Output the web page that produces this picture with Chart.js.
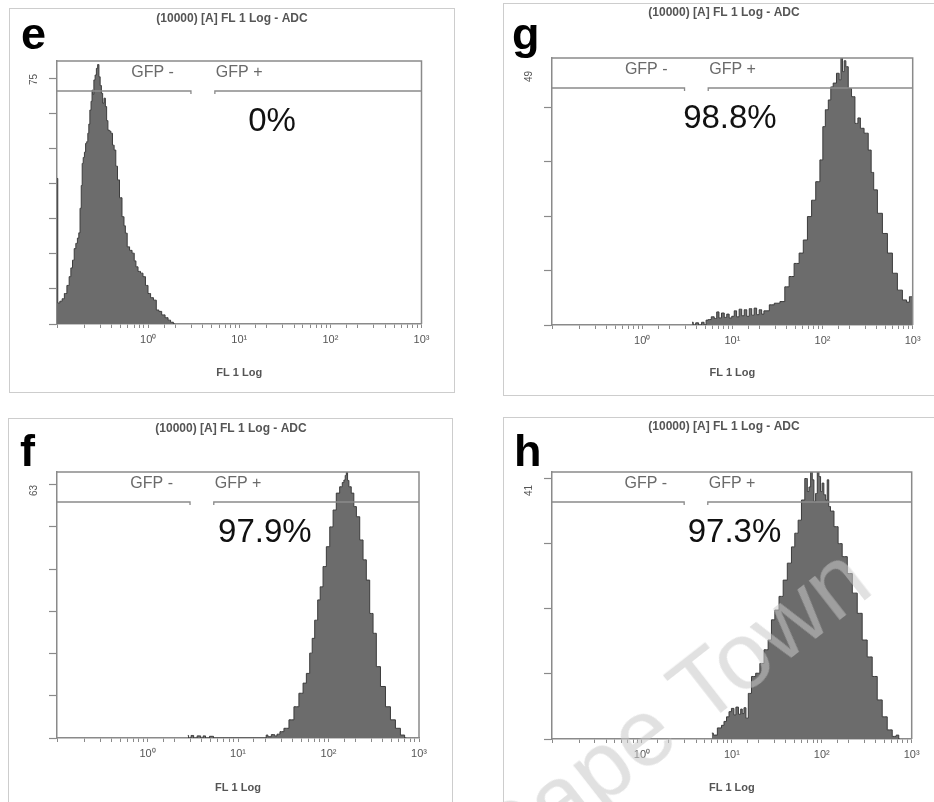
<!DOCTYPE html>
<html>
<head>
<meta charset="utf-8">
<title>FL 1 Log histograms</title>
<script src="https://cdn.jsdelivr.net/npm/chart.js@4.4.1/dist/chart.umd.min.js"></script>
<style>
  html, body { margin: 0; padding: 0; background: #fff; }
  body { position: relative; width: 934px; height: 802px; overflow: hidden; }
  .frame { position: absolute; border: 1px solid #cdcdcd; box-sizing: border-box; }
  canvas { position: absolute; }
  .watermark {
    position: absolute; white-space: nowrap; pointer-events: none;
    font: 95px "Liberation Sans", Arial, sans-serif; line-height: 95px;
    color: rgba(200, 200, 200, 0.55);
    transform-origin: 0 80px; transform: rotate(-38deg);
  }
</style>
</head>
<body>
<div class="frame" style="left:9px;top:8px;width:446px;height:385px"></div>
<div class="frame" style="left:503px;top:3px;width:460px;height:393px"></div>
<div class="frame" style="left:8px;top:418px;width:445px;height:420px"></div>
<div class="frame" style="left:503px;top:417px;width:460px;height:420px"></div>

<canvas id="chart-e" width="445" height="385" style="left:9px;top:8px"></canvas>
<canvas id="chart-g" width="440" height="390" style="left:503px;top:3px"></canvas>
<canvas id="chart-f" width="445" height="390" style="left:8px;top:418px"></canvas>
<canvas id="chart-h" width="440" height="391" style="left:503px;top:417px"></canvas>

<div class="watermark" style="left:503px;top:803px">Cape Town</div>

<script>
// ---- data (FL 1 value, event count) ----
const eFL = [0.100, 0.104, 0.111, 0.117, 0.124, 0.133, 0.139, 0.145, 0.151, 0.158,
  0.164, 0.171, 0.176, 0.182, 0.187, 0.191, 0.197, 0.203, 0.209, 0.215,
  0.221, 0.226, 0.233, 0.240, 0.245, 0.250, 0.258, 0.266, 0.275, 0.284,
  0.293, 0.302, 0.312, 0.322, 0.334, 0.345, 0.356, 0.368, 0.382, 0.398,
  0.415, 0.432, 0.452, 0.471, 0.500, 0.534, 0.553, 0.572, 0.607, 0.645,
  0.688, 0.720, 0.750, 0.800, 0.851, 0.905, 0.965, 1.03, 1.10, 1.19,
  1.27, 1.35, 1.47, 1.60, 1.71, 1.82, 1.97];
const eCount = [41.5, 6.0, 6.5, 7.2, 8.7, 11.0, 13.5, 16.0, 18.2, 21.5,
  23.0, 24.5, 26.0, 33.0, 39.5, 45.8, 47.5, 49.0, 51.5, 52.0,
  54.4, 57.0, 61.0, 63.5, 66.7, 65.5, 69.6, 71.0, 72.9, 74.0,
  70.5, 68.0, 65.8, 63.0, 64.4, 62.0, 58.0, 55.3, 55.0, 54.4,
  51.0, 49.6, 45.0, 41.1, 36.0, 30.6, 28.0, 25.9, 22.0, 21.0,
  20.2, 18.0, 16.3, 15.0, 14.5, 13.5, 11.0, 8.7, 7.5, 6.8,
  4.0, 3.6, 2.6, 1.8, 1.1, 0.5, 0];

const gFL = [3.57, 3.8, 4.05, 4.4, 4.72, 5.0, 5.23, 5.6, 6.09, 6.5,
  6.92, 7.3, 7.87, 8.4, 8.94, 9.5, 10.2, 10.8, 11.5, 12.3,
  13.1, 14.0, 14.9, 15.9, 16.9, 18.0, 19.2, 20.5, 21.8, 23.0,
  24.2, 27.3, 31.2, 36.4, 40.0, 45.4, 51.6, 58.7, 63.8, 72.5,
  78.9, 89.6, 97.7, 104, 111, 121, 126, 137, 149, 157,
  163, 170, 178, 185, 201, 219, 239, 255, 271, 308,
  335, 358, 381, 433, 492, 559, 635, 721, 820, 892,
  948, 1000];
const gCount = [0.5, 0, 0.4, 0, 0.5, 0, 0.9, 1.0, 1.5, 1.2,
  2.4, 1.3, 2.2, 1.4, 2.0, 1.3, 1.6, 2.6, 1.5, 2.9,
  1.7, 2.8, 1.6, 3.0, 1.8, 3.1, 1.9, 2.8, 2.0, 2.6,
  2.6, 3.7, 4.0, 4.3, 7.0, 8.9, 11.3, 13.2, 15.6, 19.9,
  22.9, 26.3, 30.3, 36.4, 39.5, 41.3, 43.7, 44.4, 46.2, 45.0,
  49.0, 46.5, 48.5, 47.4, 43.4, 41.9, 37.0, 38.0, 36.1, 35.2,
  32.1, 28.0, 24.8, 20.5, 16.8, 13.2, 9.5, 6.4, 4.6, 4.2,
  5.2, 5.2];

const fFL = [2.79, 2.9, 3.17, 3.3, 3.79, 3.95, 4.30, 4.45, 5.27, 5.45,
  20.2, 20.8, 22, 24.8, 26, 28, 30.2, 34.3, 39.0, 44.2,
  50.2, 54.6, 59.4, 64.7, 67.4, 73.5, 78.5, 83.5, 90.8, 98.7,
  108, 117, 127, 139, 145, 151, 155, 160, 165, 171,
  186, 195, 212, 231, 251, 273, 298, 324, 352, 400,
  454, 515, 585, 664, 724];
const fCount = [0.6, 0, 0.6, 0, 0.5, 0, 0.5, 0, 0.4, 0,
  0, 0.7, 0.3, 0.8, 0.5, 0.9, 1.5, 2.3, 4.3, 7.4,
  10.6, 13.0, 15.3, 20.1, 23.6, 27.9, 32.7, 35.8, 40.6, 45.3,
  50.0, 54.0, 58.0, 59.5, 60.5, 61.1, 62.2, 63.0, 61.0, 59.5,
  58.0, 54.8, 52.4, 46.9, 42.2, 37.4, 29.5, 24.8, 16.9, 12.2,
  7.4, 4.3, 2.3, 0.7, 0];

const hFL = [5.99, 6.47, 7.36, 8.0, 8.36, 9.10, 9.50, 10.3, 10.8, 11.4,
  12.3, 12.8, 13.3, 14.0, 14.7, 15.8, 17.3, 19.6, 21.4, 24.3,
  26.4, 28.8, 31.4, 35.7, 38.8, 44.1, 48.0, 52.3, 57.0, 62.0,
  67.6, 70.5, 73.6, 76.8, 80.0, 83.5, 87.3, 91, 95.0, 99,
  103, 108, 113, 117, 122, 128, 146, 158, 180, 205,
  233, 264, 300, 341, 388, 441, 501, 570, 647, 700,
  736];
const hCount = [0.9, 0.6, 1.7, 2.1, 2.7, 3.4, 4.2, 4.7, 3.7, 4.9,
  3.8, 4.6, 3.9, 4.8, 3.2, 7.0, 9.6, 10.1, 11.6, 13.7,
  15.2, 18.3, 19.8, 21.9, 24.4, 27.0, 29.5, 31.6, 33.6, 36.7,
  40.0, 38.0, 38.7, 41.0, 39.8, 36.5, 37.7, 41.0, 40.3, 38.0,
  39.3, 37.5, 36.7, 39.8, 35.7, 35.0, 32.6, 30.0, 28.0, 25.4,
  22.4, 19.3, 15.2, 12.6, 9.6, 6.0, 3.4, 1.4, 0.4, 0.6,
  0];

// axis max shown at the top of each count axis
const yMax = [75, 49, 63, 41];
const panelLetters = ['e', 'g', 'f', 'h'];
const pctText = ['0%', '98.8%', '97.9%', '97.3%'];
const pctAt = [22.9, 9.4, 19.8, 10.7];          // FL 1 value under each % label

const gateNames = ['GFP -', 'GFP +'];
const gateNeg = [0.1, 2.95];
const gatePos = [5.4, 1000];

const xTickValues = [1, 10, 100, 1000];
const xTickLabels = ['10⁰', '10¹', '10²', '10³'];
const plotTitle = '(10000) [A] FL 1 Log - ADC';
const xTitle = 'FL 1 Log';

const FONT = '"Liberation Sans", Arial, sans-serif';
Chart.defaults.font.family = FONT;
Chart.defaults.animation = false;

const AXIS = '#8a8a8a';

// gate bar, GFP labels, % label, box, panel letter and header
const flowMarks = {
  id: 'flowMarks',
  afterDatasetsDraw(chart, args, o) {
    const { ctx, chartArea: a } = chart;
    const x = chart.scales.x;
    ctx.save();
    ctx.strokeStyle = AXIS;
    ctx.lineWidth = 1.5;
    ctx.beginPath();
    ctx.moveTo(a.left, a.top);
    ctx.lineTo(a.right, a.top);
    ctx.lineTo(a.right, a.bottom);
    ctx.stroke();

    const gy = a.top + 30;
    const negEnd = x.getPixelForValue(gateNeg[1]);
    const posStart = x.getPixelForValue(gatePos[0]);
    ctx.lineWidth = 1.3;
    ctx.beginPath();
    ctx.moveTo(x.getPixelForValue(gateNeg[0]), gy);
    ctx.lineTo(negEnd, gy);
    ctx.lineTo(negEnd, gy + 3);
    ctx.moveTo(posStart, gy + 3);
    ctx.lineTo(posStart, gy);
    ctx.lineTo(x.getPixelForValue(gatePos[1]), gy);
    ctx.stroke();

    ctx.fillStyle = '#6a6a6a';
    ctx.font = '16px ' + FONT;
    ctx.textBaseline = 'middle';
    ctx.textAlign = 'right';
    ctx.fillText(gateNames[0], negEnd - 17, a.top + 12);
    ctx.textAlign = 'left';
    ctx.fillText(gateNames[1], posStart + 1, a.top + 12);

    ctx.fillStyle = '#111';
    ctx.font = '33px ' + FONT;
    ctx.textAlign = 'center';
    ctx.fillText(o.pct, x.getPixelForValue(o.pctAt), a.top + 61);
    ctx.restore();
  },
  afterDraw(chart, args, o) {
    const ctx = chart.ctx;
    ctx.save();
    ctx.fillStyle = '#555';
    ctx.font = 'bold 12px ' + FONT;
    ctx.textAlign = 'center';
    ctx.textBaseline = 'middle';
    ctx.fillText(plotTitle, o.titleX, o.titleY);
    ctx.fillStyle = '#000';
    ctx.font = 'bold 45px ' + FONT;
    ctx.textAlign = 'left';
    ctx.textBaseline = 'alphabetic';
    ctx.fillText(o.letter, o.letterX, o.letterY);
    ctx.restore();
  }
};

// pixel layout of each panel (plot box placement inside its canvas)
const boxes = [
  { top: 53, right: 32.5, yw: 48, xh: 69, titleX: 223, titleY: 11, letterX: 12, letterY: 41 },
  { top: 55, right: 30.3, yw: 49, xh: 68, titleX: 221, titleY: 10, letterX: 9, letterY: 46 },
  { top: 54, right: 34, yw: 49, xh: 70, titleX: 223, titleY: 11, letterX: 12, letterY: 48 },
  { top: 55, right: 31.3, yw: 49, xh: 69, titleX: 221, titleY: 10, letterX: 11, letterY: 49 }
];

function decadeLabel(v) {
  const i = xTickValues.findIndex(t => Math.abs(t - v) < t * 1e-6);
  return i >= 0 ? xTickLabels[i] : '';
}

function makeChart(i, fl, counts) {
  const top = yMax[i];
  const b = boxes[i];
  const yTicks = [];
  for (let v = 0; v < top; v += 10) yTicks.push(v);
  yTicks.push(top);

  new Chart(document.getElementById('chart-' + panelLetters[i]), {
    type: 'line',
    data: {
      datasets: [{
        data: fl.map((v, k) => ({ x: v, y: counts[k] })),
        stepped: 'middle',
        fill: 'origin',
        backgroundColor: '#6c6c6c',
        borderColor: '#3c3c3c',
        borderWidth: 1,
        pointRadius: 0
      }]
    },
    options: {
      responsive: false,
      animation: false,
      layout: { padding: { left: 0, top: b.top, right: b.right, bottom: 0 } },
      plugins: {
        legend: { display: false },
        tooltip: { enabled: false },
        flowMarks: {
          pct: pctText[i], pctAt: pctAt[i], letter: panelLetters[i],
          titleX: b.titleX, titleY: b.titleY, letterX: b.letterX, letterY: b.letterY
        }
      },
      scales: {
        x: {
          type: 'logarithmic',
          min: 0.1,
          max: 1000,
          afterFit: s => { s.height = b.xh; },
          ticks: {
            autoSkip: false, maxRotation: 0, minRotation: 0, padding: 5,
            color: '#555', font: { size: 11 },
            callback: v => decadeLabel(v)
          },
          grid: { drawOnChartArea: false, tickLength: 4, color: AXIS, tickColor: AXIS, tickWidth: 1 },
          border: { color: AXIS, width: 1.5 },
          title: {
            display: true, text: xTitle, color: '#555',
            font: { size: 11, weight: 'bold' }, padding: { top: 0, bottom: 13 }
          }
        },
        y: {
          type: 'linear',
          min: 0,
          max: top,
          afterBuildTicks: s => { s.ticks = yTicks.map(v => ({ value: v })); },
          afterFit: s => { s.width = b.yw; },
          ticks: {
            minRotation: 90, maxRotation: 90, labelOffset: 13, padding: 15,
            color: '#555', font: { size: 10 },
            callback: v => (v === top ? String(top) : '')
          },
          grid: {
            drawOnChartArea: false, tickLength: 8, tickWidth: 1.2,
            tickColor: c => (c.tick && c.tick.value === top ? 'rgba(0,0,0,0)' : AXIS)
          },
          border: { color: AXIS, width: 1.5 }
        }
      }
    },
    plugins: [flowMarks]
  });
}

makeChart(0, eFL, eCount);
makeChart(1, gFL, gCount);
makeChart(2, fFL, fCount);
makeChart(3, hFL, hCount);
</script>
</body>
</html>
